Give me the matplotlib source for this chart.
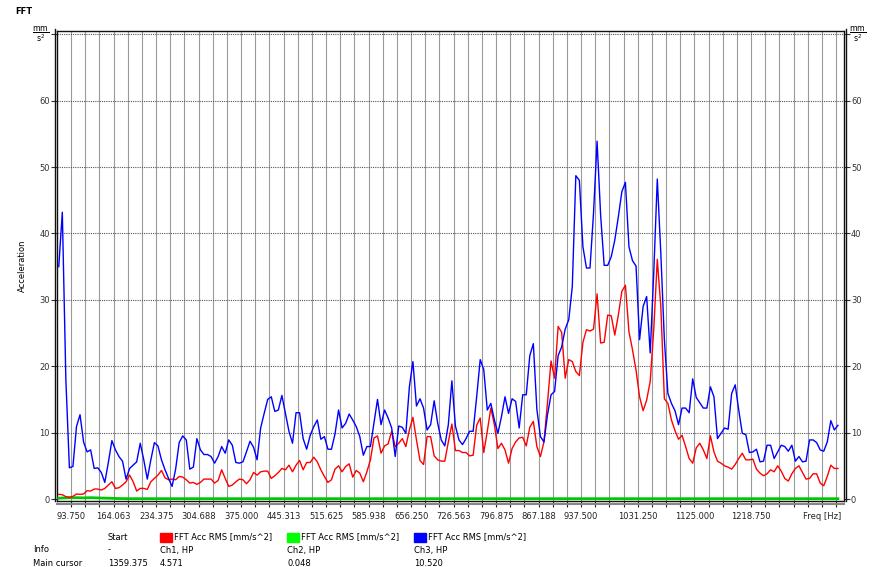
import numpy as np
import matplotlib.pyplot as plt
from matplotlib.patches import Rectangle

W, H = 876, 567

# FFT bins: first bin centre and bin width in Hz
f0 = 73.2421875
df = 5.859375

# Ch1 (red), Ch3 (blue), Ch2 (green) in mm/s^2
ch1 = [0.7, 0.65, 0.35, 0.25, 0.4, 0.75, 0.7, 0.75, 1.25, 1.2,
       1.5, 1.5, 1.35, 1.6, 2.1, 2.6, 1.6, 1.7, 2.1, 2.6,
       3.6, 2.6, 1.2, 1.6, 1.6, 1.45, 2.6, 3.1, 3.6, 4.3,
       3.2, 2.9, 3.0, 2.9, 3.4, 3.3, 2.9, 2.4, 2.5, 2.2,
       2.5, 3.0, 3.0, 3.0, 2.4, 2.8, 4.4, 3.1, 1.9, 2.1,
       2.6, 3.0, 2.9, 2.3, 2.9, 4.0, 3.6, 4.1, 4.2, 4.2,
       3.1, 3.5, 4.0, 4.6, 4.4, 5.1, 4.1, 5.1, 5.8, 4.4,
       5.5, 5.5, 6.3, 5.6, 4.4, 3.4, 2.5, 2.9, 4.5, 5.0,
       4.1, 4.9, 5.3, 3.3, 4.3, 3.9, 2.6, 4.1, 5.9, 9.2,
       9.5, 6.9, 8.0, 8.3, 10.2, 7.9, 8.4, 9.1, 7.9, 10.4,
       12.3, 8.9, 5.8, 5.2, 9.4, 9.4, 6.5, 5.9, 5.7, 5.7,
       8.6, 11.3, 7.3, 7.3, 7.0, 7.0, 6.5, 6.6, 11.1, 12.2,
       7.0, 10.2, 13.7, 11.2, 7.6, 8.4, 7.4, 5.4, 7.6, 8.6,
       9.2, 9.3, 8.0, 10.8, 11.7, 7.9, 6.4, 8.6, 14.5, 20.8,
       18.2, 26.0, 25.1, 18.2, 21.0, 20.7, 19.2, 18.6, 23.6, 25.5,
       25.3, 25.6, 30.9, 23.5, 23.6, 27.7, 27.6, 24.7, 27.7, 31.3,
       32.2, 25.2, 22.5, 19.4, 15.4, 13.3, 14.9, 17.7, 25.5, 36.1,
       29.0, 15.1, 14.4, 11.9, 10.3, 9.0, 9.6, 7.9, 6.1, 5.4,
       7.7, 8.4, 7.4, 6.1, 9.5, 7.1, 5.7, 5.4, 5.0, 4.8,
       4.5, 5.2, 6.1, 6.9, 5.9, 5.9, 6.0, 4.5, 3.9, 3.5,
       3.8, 4.4, 4.1, 5.0, 4.2, 3.1, 2.7, 3.8, 4.6, 5.0,
       4.0, 3.0, 3.1, 3.8, 3.8, 2.4, 2.0, 3.4, 5.1, 4.6,
       4.6]

ch3 = [35.0, 43.2, 18.0, 4.7, 4.9, 10.9, 12.7, 8.6, 7.1, 7.4,
       4.6, 4.7, 4.0, 2.5, 5.5, 8.8, 7.4, 6.4, 5.7, 3.0,
       4.6, 5.1, 5.6, 8.4, 5.9, 3.0, 5.9, 8.5, 8.0, 5.9,
       4.4, 3.1, 1.9, 4.5, 8.5, 9.5, 8.9, 4.5, 4.8, 9.1,
       7.4, 6.7, 6.7, 6.4, 5.4, 6.4, 7.9, 6.9, 8.9, 8.1,
       5.5, 5.4, 5.6, 7.1, 8.7, 7.8, 5.9, 10.7, 12.9, 15.0,
       15.4, 13.2, 13.4, 15.6, 12.9, 10.2, 8.4, 13.0, 13.0, 9.1,
       7.5, 9.6, 10.9, 11.9, 9.0, 9.4, 7.5, 7.5, 9.8, 13.4,
       10.7, 11.4, 12.8, 11.9, 10.9, 9.4, 6.6, 7.9, 7.9, 11.4,
       15.0, 11.2, 13.4, 12.2, 10.7, 6.4, 11.0, 10.8, 9.9, 16.9,
       20.7, 14.0, 15.1, 13.7, 10.4, 11.2, 14.8, 11.4, 8.9, 8.0,
       11.2, 17.8, 11.0, 8.9, 8.2, 9.1, 10.2, 10.2, 15.4, 21.0,
       19.5, 13.4, 14.4, 11.9, 9.9, 12.4, 15.4, 12.9, 15.1, 14.7,
       10.7, 15.7, 15.7, 21.6, 23.4, 13.5, 9.4, 8.6, 12.7, 15.7,
       16.2, 21.6, 22.9, 25.6, 27.0, 32.0, 48.7, 48.0, 38.0, 34.8,
       34.8, 43.1, 53.9, 42.8, 35.2, 35.2, 36.5, 39.0, 42.5, 46.3,
       47.7, 38.0, 35.9, 35.1, 24.0, 29.0, 30.5, 22.0, 34.0, 48.2,
       37.0, 24.0, 15.9, 14.4, 13.3, 11.2, 13.7, 13.7, 13.0, 18.1,
       15.3, 14.5, 13.7, 13.7, 16.9, 15.4, 9.1, 9.9, 10.7, 10.5,
       15.9, 17.2, 13.4, 9.9, 9.7, 7.0, 7.1, 7.5, 5.6, 5.7,
       8.1, 8.1, 6.1, 7.1, 8.1, 7.9, 7.2, 8.1, 5.7, 6.4,
       5.6, 5.7, 8.9, 8.9, 8.5, 7.4, 7.2, 8.6, 11.8, 10.4,
       11.1]

ch2 = [0.12, 0.15, 0.18, 0.2, 0.19, 0.2, 0.18, 0.17, 0.19, 0.2,
       0.18, 0.16, 0.15, 0.13, 0.12, 0.1, 0.08, 0.07, 0.06, 0.05,
       0.05, 0.05, 0.05, 0.05, 0.05, 0.05, 0.05, 0.05, 0.05, 0.05,
       0.05, 0.05, 0.05, 0.05, 0.05, 0.05, 0.05, 0.05, 0.05, 0.05,
       0.05, 0.05, 0.05, 0.05, 0.05, 0.05, 0.05, 0.05, 0.05, 0.05,
       0.05, 0.05, 0.05, 0.05, 0.05, 0.05, 0.05, 0.05, 0.05, 0.05,
       0.05, 0.05, 0.05, 0.05, 0.05, 0.05, 0.05, 0.05, 0.05, 0.05,
       0.05, 0.05, 0.05, 0.05, 0.05, 0.05, 0.05, 0.05, 0.05, 0.05,
       0.05, 0.05, 0.05, 0.05, 0.05, 0.05, 0.05, 0.05, 0.05, 0.05,
       0.05, 0.05, 0.05, 0.05, 0.05, 0.05, 0.05, 0.05, 0.05, 0.05,
       0.05, 0.05, 0.05, 0.05, 0.05, 0.05, 0.05, 0.05, 0.05, 0.05,
       0.05, 0.05, 0.05, 0.05, 0.05, 0.05, 0.05, 0.05, 0.05, 0.05,
       0.05, 0.05, 0.05, 0.05, 0.05, 0.05, 0.05, 0.05, 0.05, 0.05,
       0.05, 0.05, 0.05, 0.05, 0.05, 0.05, 0.05, 0.05, 0.05, 0.05,
       0.05, 0.05, 0.05, 0.05, 0.05, 0.05, 0.05, 0.05, 0.05, 0.05,
       0.05, 0.05, 0.05, 0.05, 0.05, 0.05, 0.05, 0.05, 0.05, 0.05,
       0.05, 0.05, 0.05, 0.05, 0.05, 0.05, 0.05, 0.05, 0.05, 0.05,
       0.05, 0.05, 0.05, 0.05, 0.05, 0.05, 0.05, 0.05, 0.05, 0.05,
       0.05, 0.05, 0.05, 0.05, 0.05, 0.05, 0.05, 0.05, 0.05, 0.05,
       0.05, 0.05, 0.05, 0.05, 0.05, 0.05, 0.05, 0.05, 0.05, 0.05,
       0.05, 0.05, 0.05, 0.05, 0.05, 0.05, 0.05, 0.05, 0.05, 0.05,
       0.05, 0.05, 0.05, 0.05, 0.05, 0.05, 0.05, 0.05, 0.05, 0.05,
       0.048]

# x axis: grid every 23.4375 Hz, only some ticks labelled
tick_first = 93.75
tick_step = 23.4375
n_ticks = 55
labelled = {0: '93.750', 3: '164.063', 6: '234.375', 9: '304.688',
            12: '375.000', 15: '445.313', 18: '515.625', 21: '585.938',
            24: '656.250', 27: '726.563', 30: '796.875', 33: '867.188',
            36: '937.500', 40: '1031.250', 44: '1125.000', 48: '1218.750',
            53: 'Freq [Hz]'}

# legend / cursor table
channels = ['Ch1, HP', 'Ch2, HP', 'Ch3, HP']
ch_colors = ['#ff0000', '#00ff00', '#0000ff']
cursor_vals = ['4.571', '0.048', '10.520']
cursor_freq = '1359.375'
quantity = 'FFT Acc RMS [mm/s^2]'

freqs = f0 + df * np.arange(len(ch3))
ticks = tick_first + tick_step * np.arange(n_ticks)

plt.rcParams['font.family'] = 'DejaVu Sans'
fig = plt.figure(figsize=(W / 100, H / 100), dpi=100)

def px(x, y):
    return x / W, 1 - y / H

ax = fig.add_axes([57 / W, (H - 501) / H, (844 - 57) / W, (501 - 31) / H])
ax.set_xlim(70.3125, 1372.4)
ax.set_ylim(-0.3, 70.5)

ax.plot(freqs, ch2, color='#00c800', lw=2.0, zorder=3)
ax.plot(freqs, ch1, color='#ff0000', lw=1.0, zorder=4)
ax.plot(freqs, ch3, color='#0000ff', lw=1.0, zorder=5)

ax.set_xticks(ticks)
ax.set_xticklabels([labelled.get(k, '') for k in range(n_ticks)])
ax.set_yticks(np.arange(0, 71, 10))
ax.set_yticklabels([str(v) for v in range(0, 61, 10)] + [''])
ax.tick_params(axis='x', direction='out', length=4, width=0.8, pad=4,
               labelsize=6, colors='#222222')
ax.tick_params(axis='y', direction='out', length=4, width=0.8, pad=1,
               labelsize=6, colors='#333333', right=True, labelright=True)

for t in ticks:
    ax.axvline(t, color='#9a9a9a', lw=0.8, zorder=1)
for v in range(10, 71, 10):
    ax.axhline(v, color='#555555', lw=0.8, ls=(0, (1, 1)), zorder=1)

for s in ax.spines.values():
    s.set_color('#111111')
    s.set_linewidth(1.0)
# doubled frame lines as in the instrument software
ax.plot([0, 1], [-0.006, -0.006], transform=ax.transAxes, color='#888888',
        lw=1.5, clip_on=False)
ax.plot([-0.003, -0.003], [0, 1.004], transform=ax.transAxes, color='#111111',
        lw=1.0, clip_on=False)
ax.plot([1.003, 1.003], [0, 1.004], transform=ax.transAxes, color='#111111',
        lw=1.0, clip_on=False)

fig.text(*px(15, 12), 'FFT', fontsize=6, fontweight='bold', va='center')
fig.text(*px(22, 266), 'Acceleration', fontsize=6, rotation=90,
         ha='center', va='center')
unit = r'$\frac{\mathrm{mm}}{\mathrm{s}^2}$'
fig.text(*px(41, 35), unit, fontsize=8, ha='center', va='center')
fig.text(*px(858, 35), unit, fontsize=8, ha='center', va='center')

fs = 6
fig.text(*px(108, 537), 'Start', fontsize=fs, va='center')
fig.text(*px(33, 550), 'Info', fontsize=fs, va='center')
fig.text(*px(108, 550), '-', fontsize=fs, va='center')
fig.text(*px(33, 563), 'Main cursor', fontsize=fs, va='center')
fig.text(*px(108, 563), cursor_freq, fontsize=fs, va='center')
for j, x0 in enumerate([160, 287, 414]):
    fig.patches.append(Rectangle(px(x0, 542), 12 / W, 9 / H,
                                 transform=fig.transFigure,
                                 color=ch_colors[j]))
    fig.text(*px(x0 + 14, 537), quantity, fontsize=fs, va='center')
    fig.text(*px(x0, 550), channels[j], fontsize=fs, va='center')
    fig.text(*px(x0, 563), cursor_vals[j], fontsize=fs, va='center')

fig.savefig('out.png', dpi=100)
